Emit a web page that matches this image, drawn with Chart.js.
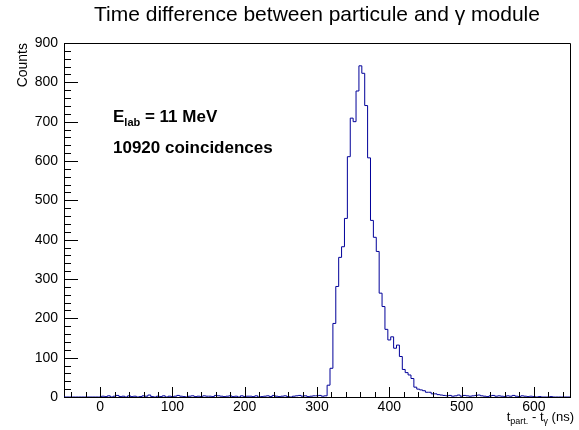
<!DOCTYPE html>
<html>
<head>
<meta charset="utf-8">
<script src="https://cdn.jsdelivr.net/npm/chart.js@4.4.0/dist/chart.umd.min.js"></script>
<style>
    html, body { margin: 0; padding: 0; background: #fff; }
</style>
</head>
<body>
<canvas id="histo" width="579" height="430"></canvas>
<script>
// Histogram binning: 4 ns bins from -50 to 650 ns
const binMin = -50;
const binWidth = 4;

// Counts per bin (175 bins)
const counts = [
    0, 0, 0, 0, 0, 0, 0, 0, 0, 0, 0, 0, 0,
    2, 1, 3, 0, 2, 4, 1, 2, 0, 3,
    1, 2, 0, 1, 3, 2, 5, 1, 0, 2,
    1, 3, 0, 2, 1, 2, 4, 2, 1, 0,
    2, 3, 1, 2, 1, 3, 2, 2, 1, 4,
    3, 2, 1, 2, 3, 1, 2, 0, 3, 1,
    2, 2, 1, 3, 0, 1, 2, 3, 1, 4,
    2, 1, 2, 3, 1, 0, 2, 3, 4, 2,
    3, 1, 2, 3, 3, 4, 2, 3,
    30, 73, 187, 281, 355, 382, 454, 611, 709, 700,
    778, 842, 823, 741, 608, 449, 406, 370, 264, 230,
    172, 145, 153, 124, 132, 103, 70, 62, 56, 47,
    25, 20, 18, 16, 12, 12, 8, 8, 6, 5,
    4,
    3, 4, 2, 3, 5, 2, 4, 3, 2, 3,
    4, 5, 3, 2, 1, 3, 4, 2, 3, 2,
    1, 3, 2, 4, 2, 1, 3, 2, 1, 2,
    1,
    0, 1, 0, 0, 0, 1, 0, 0, 0, 0, 0, 0
];

const xTicks = [0, 100, 200, 300, 400, 500, 600];
const yTicks = [0, 100, 200, 300, 400, 500, 600, 700, 800, 900];

const fontName = "'Liberation Sans', Arial, Helvetica, sans-serif";

// Points at the lower edge of each bin, plus the upper edge of the last one
const points = counts.map((c, i) => ({ x: binMin + i * binWidth, y: c }));
points.push({ x: binMin + counts.length * binWidth, y: counts[counts.length - 1] });

// Draws text pieces in sequence, some as subscripts
function drawPieces(ctx, pieces, x, y) {
    pieces.forEach(p => {
        ctx.font = p.font;
        ctx.fillText(p.text, x, y + (p.dy || 0));
        x += ctx.measureText(p.text).width;
    });
}

function piecesWidth(ctx, pieces) {
    let w = 0;
    pieces.forEach(p => {
        ctx.font = p.font;
        w += ctx.measureText(p.text).width;
    });
    return w;
}

// Frame, inward ticks and all the texts in ROOT style
const rootStyle = {
    id: 'rootStyle',
    afterDraw(chart) {
        const ctx = chart.ctx;
        const area = chart.chartArea;
        const xs = chart.scales.x;
        const ys = chart.scales.y;

        ctx.save();
        ctx.strokeStyle = '#000';
        ctx.lineWidth = 1;
        ctx.beginPath();
        ctx.moveTo(area.left, area.top + 0.5);
        ctx.lineTo(area.right + 0.5, area.top + 0.5);
        ctx.lineTo(area.right + 0.5, area.bottom);

        // x ticks, every 20 ns
        for (let v = -40; v <= 640; v += 20) {
            const px = Math.round(xs.getPixelForValue(v)) + 0.5;
            const len = v % 100 === 0 ? 10 : 5;
            ctx.moveTo(px, area.bottom);
            ctx.lineTo(px, area.bottom - len);
        }
        // y ticks, every 20 counts
        for (let v = 20; v <= 880; v += 20) {
            const py = Math.round(ys.getPixelForValue(v)) + 0.5;
            const len = v % 100 === 0 ? 14 : 7;
            ctx.moveTo(area.left, py);
            ctx.lineTo(area.left + len, py);
        }
        ctx.stroke();

        ctx.fillStyle = '#000';
        ctx.textBaseline = 'alphabetic';

        // Title
        ctx.font = '21px ' + fontName;
        ctx.textAlign = 'center';
        ctx.fillText('Time difference between particule and \u03b3 module', (area.left + area.right) / 2, 21);

        // Y axis title
        ctx.save();
        ctx.translate(27, area.top);
        ctx.rotate(-Math.PI / 2);
        ctx.textAlign = 'right';
        ctx.font = '14px ' + fontName;
        ctx.fillText('Counts', 0, 0);
        ctx.restore();

        // X axis title, right aligned
        ctx.textAlign = 'left';
        const big = '13px ' + fontName;
        const small = '9px ' + fontName;
        const xTitle = [
            { text: 't', font: big },
            { text: 'part.', font: small, dy: 3 },
            { text: ' - t', font: big },
            { text: '\u03b3', font: small, dy: 3 },
            { text: ' (ns)', font: big }
        ];
        drawPieces(ctx, xTitle, 574 - piecesWidth(ctx, xTitle), 421);

        // Annotations
        const bold = 'bold 17px ' + fontName;
        const boldSmall = 'bold 11px ' + fontName;
        drawPieces(ctx, [
            { text: 'E', font: bold },
            { text: 'lab', font: boldSmall, dy: 4 },
            { text: ' = 11 MeV', font: bold }
        ], 113, 122);
        drawPieces(ctx, [{ text: '10920 coincidences', font: bold }], 113, 153);

        ctx.restore();
    }
};

const ctx = document.getElementById('histo').getContext('2d');
new Chart(ctx, {
    type: 'line',
    data: {
        datasets: [{
            data: points,
            stepped: true,
            borderColor: '#000099',
            borderWidth: 1,
            pointRadius: 0,
            fill: false
        }]
    },
    options: {
        responsive: false,
        animation: false,
        devicePixelRatio: 1,
        layout: {
            padding: { top: 43, right: 9, bottom: 0, left: 0 }
        },
        plugins: {
            legend: { display: false },
            tooltip: { enabled: false },
            title: { display: false }
        },
        scales: {
            x: {
                type: 'linear',
                position: 'bottom',
                min: -50,
                max: 650,
                grid: { display: false, drawTicks: false },
                border: { display: true, color: '#000', width: 1 },
                afterBuildTicks: scale => { scale.ticks = xTicks.map(v => ({ value: v })); },
                afterFit: scale => { scale.height = 33; },
                ticks: {
                    color: '#000',
                    padding: 2,
                    maxRotation: 0,
                    font: { family: fontName, size: 14 }
                }
            },
            y: {
                type: 'linear',
                min: 0,
                max: 900,
                grid: { display: false, drawTicks: false },
                border: { display: true, color: '#000', width: 1 },
                afterBuildTicks: scale => { scale.ticks = yTicks.map(v => ({ value: v })); },
                afterFit: scale => { scale.width = 64; },
                ticks: {
                    color: '#000',
                    padding: 6,
                    font: { family: fontName, size: 14 }
                }
            }
        }
    },
    plugins: [rootStyle]
});
</script>
</body>
</html>
